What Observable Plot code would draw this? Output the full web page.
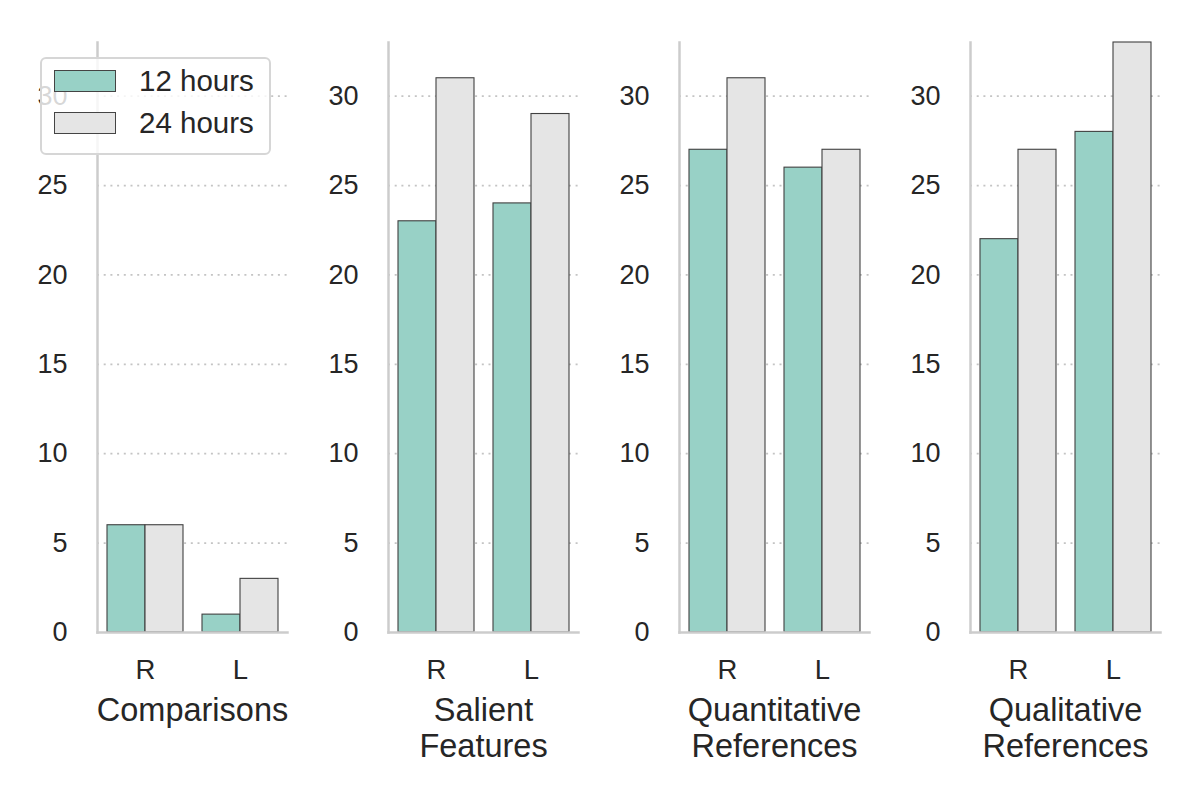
<!DOCTYPE html>
<html>
<head>
<meta charset="utf-8">
<script src="https://cdn.jsdelivr.net/npm/d3@7"></script>
<script src="https://cdn.jsdelivr.net/npm/@observablehq/plot@0.6"></script>
<style>
  html, body { margin: 0; padding: 0; background: #fff; }
  #wrap { position: relative; width: 1200px; height: 800px; font-family: "Liberation Sans", Arial, sans-serif; color: #262626; }
  .panel { position: absolute; top: 0; }
  #legend { position: absolute; left: 40px; top: 57px; width: 227px; height: 94px; border: 2px solid #d6d6d6; border-radius: 6px; background: rgba(255,255,255,0.82); z-index: 5; box-sizing: content-box; }
  .item { position: absolute; left: 12px; height: 22px; display: flex; align-items: center; }
  .sw { width: 62px; height: 22px; border: 1px solid #444; box-sizing: border-box; }
  .lab { margin-left: 23px; font-size: 29.5px; color: #262626; line-height: 22px; }
</style>
</head>
<body>
<div id="wrap"></div>
<script>
// ---- data ----
const categories = ["Comparisons", "Salient\nFeatures", "Quantitative\nReferences", "Qualitative\nReferences"];
const sides = ["R", "L"];
const seriesNames = ["12 hours", "24 hours"];
const hours12 = [[6, 1], [23, 24], [27, 26], [22, 28]];
const hours24 = [[6, 3], [31, 29], [31, 27], [27, 33]];
const yTicks = [0, 5, 10, 15, 20, 25, 30];
const colors = ["#98d1c6", "#e5e5e5"];

// ---- layout ----
const panelW = 291, mL = 97, mR = 4, mT = 42, mB = 168, H = 800;
const plotW = panelW - mL - mR;
const padIn = 0.2, padOut = 0.1;
const step = plotW / (sides.length - padIn + 2 * padOut);
const half = step * (1 - padIn) / 2;

const wrap = document.getElementById("wrap");

categories.forEach((cat, i) => {
  const rows12 = sides.map((s, j) => ({side: s, value: hours12[i][j]}));
  const rows24 = sides.map((s, j) => ({side: s, value: hours24[i][j]}));
  const chart = Plot.plot({
    width: panelW,
    height: H,
    marginLeft: mL,
    marginRight: mR,
    marginTop: mT,
    marginBottom: mB,
    style: {fontFamily: '"Liberation Sans", Arial, sans-serif', color: "#262626", background: "transparent", overflow: "visible"},
    x: {type: "band", domain: sides, paddingInner: padIn, paddingOuter: padOut, align: 0.5, label: null},
    y: {domain: [0, 33], label: null},
    marks: [
      Plot.gridY(yTicks.filter(d => d > 0), {stroke: "#c4c4c4", strokeOpacity: 1, strokeWidth: 1.8, strokeDasharray: "2,4.7"}),
      Plot.barY(rows12, {x: "side", y: "value", fill: colors[0], stroke: "#404040", strokeWidth: 1.1, insetRight: half}),
      Plot.barY(rows24, {x: "side", y: "value", fill: colors[1], stroke: "#404040", strokeWidth: 1.1, insetLeft: half}),
      Plot.frame({anchor: "left", stroke: "#cccccc", strokeWidth: 2.5}),
      Plot.frame({anchor: "bottom", stroke: "#cccccc", strokeWidth: 2.5}),
      Plot.axisY({ticks: yTicks, tickSize: 0, tickPadding: 30, fontSize: 27, label: null, fill: "#262626"}),
      Plot.axisX({tickSize: 0, tickPadding: 27, fontSize: 27.5, label: null, fill: "#262626"}),
      Plot.text([cat], {text: d => d, frameAnchor: "bottom", dy: 64, lineAnchor: "top", lineHeight: 1.08, fontSize: 32.5, fill: "#262626", textAnchor: "middle"})
    ]
  });
  chart.classList.add("panel");
  chart.style.left = (i * panelW) + "px";
  wrap.appendChild(chart);
});

// ---- legend ----
const legend = document.createElement("div");
legend.id = "legend";
seriesNames.forEach((name, k) => {
  const item = document.createElement("div");
  item.className = "item";
  item.style.top = (11 + k * 42) + "px";
  const sw = document.createElement("div");
  sw.className = "sw";
  sw.style.background = colors[k];
  const lab = document.createElement("span");
  lab.className = "lab";
  lab.textContent = name;
  item.appendChild(sw);
  item.appendChild(lab);
  legend.appendChild(item);
});
wrap.appendChild(legend);
</script>
</body>
</html>
